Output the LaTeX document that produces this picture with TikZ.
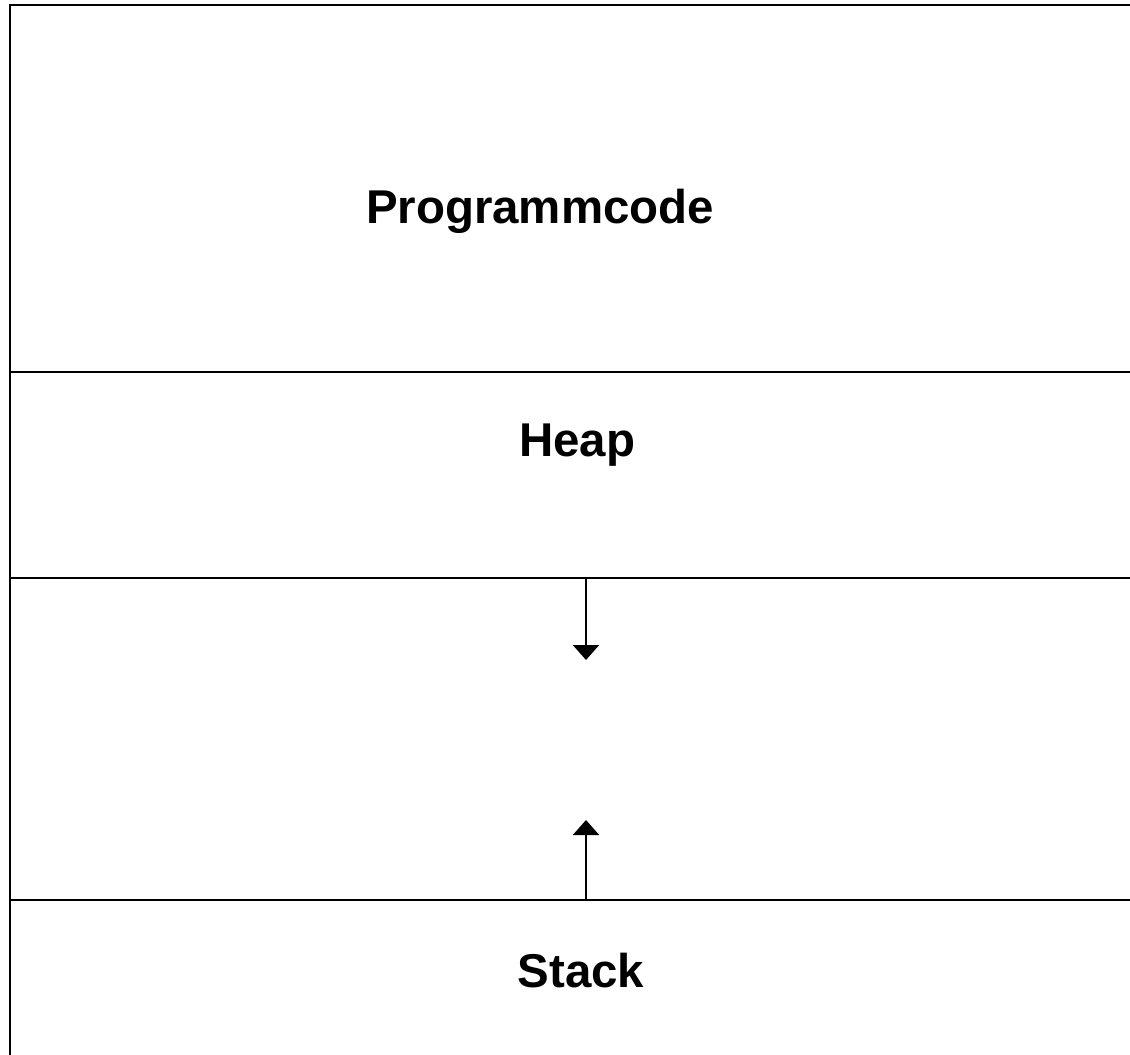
\documentclass[tikz,border=0pt]{standalone}
\usepackage{fontspec}
\setmainfont{Liberation Sans}
\usetikzlibrary{arrows.meta}

\begin{document}
\begin{tikzpicture}[x=0.02cm,y=-0.02cm,
    segtext/.style={anchor=base,font=\fontsize{27}{31}\selectfont\bfseries},
    growarrow/.style={line width=1.2pt,-{Triangle[width=0.52cm,length=0.3cm]}}]
      \useasboundingbox (0,0) rectangle (1130,1055);

      % Outer frame (left and top)
      \draw[line width=1.2pt] (10,1055) -- (10,5) -- (1130,5);

      % Segment borders
      \foreach \y in {372,578,900} {
        \draw[line width=1.2pt] (10,\y) -- (1130,\y);
      }

      % Labels
      \node[segtext] (code)  at (540,223) {Programmcode};
      \node[segtext] (heap)  at (577,456) {Heap};
      \node[segtext] (stack) at (581,987) {Stack};

      % Growth directions
      \coordinate (heapend)  at (586,578);
      \coordinate (heaptip)  at (586,660);
      \coordinate (stackend) at (586,900);
      \coordinate (stacktip) at (586,820);
      \draw[growarrow] (heapend) -- (heaptip);
      \draw[growarrow] (stackend) -- (stacktip);
\end{tikzpicture}
\end{document}
